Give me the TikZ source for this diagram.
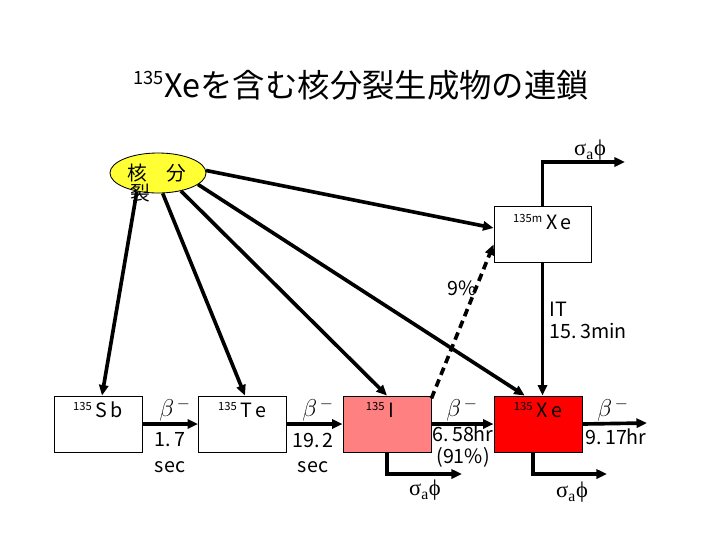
\documentclass[tikz,border=0pt]{standalone}
\usepackage{fontspec}
\setmainfont{Noto Sans CJK JP}
\newfontfamily\greekserif{Liberation Serif}
\usetikzlibrary{arrows.meta,shapes.geometric}
\definecolor{iodine}{RGB}{255,128,128}
\definecolor{xenon}{RGB}{255,0,0}
\definecolor{fisyellow}{RGB}{255,255,51}
\tikzset{
    nuclide/.style={draw=black,line width=0.6pt,minimum width=2.2cm,minimum height=1.4cm,inner sep=0pt},
    nuclname/.style={font=\fontsize{14}{14}\selectfont,inner sep=1pt},
    chain/.style={line width=2.6pt},
    info/.style={font=\fontsize{14}{14}\selectfont,inner sep=1pt},
    decay/.style={font=\fontsize{18}{18}\selectfont,inner sep=1pt},
    absorb/.style={font=\fontsize{16}{16}\selectfont\greekserif,inner sep=1pt}
}
\newcommand{\iso}[1]{\textsuperscript{\fontsize{8}{8}\selectfont #1}}
\newcommand{\bminus}{$\beta^{\,-}$}
\newcommand{\sigphi}{σ\textsubscript{a}ϕ}

\begin{document}
\begin{tikzpicture}[x=0.025cm,y=-0.025cm,>={Triangle[length=7.5pt,width=6.5pt]}]
    \useasboundingbox (0,0) rectangle (720,540);
    \node[font=\fontsize{23}{23}\selectfont] (title) at (361,85) {\textsuperscript{\fontsize{13}{13}\selectfont 135}Xeを含む核分裂生成物の連鎖};
    % fission source
    \node[shape=ellipse,draw=black,line width=0.6pt,fill=fisyellow,minimum width=2.4cm,minimum height=1cm,inner sep=0pt] (fis) at (158,173) {};
    \node[nuclname] (fisa) at (157,173) {核\quad 分};
    \node[nuclname] (fisb) at (140,193) {裂};
    % nuclides
    \node[nuclide] (sb) at (98,424) {};
    \node[nuclide] (te) at (242.5,424) {};
    \node[nuclide,fill=iodine] (i) at (387,424) {};
    \node[nuclide,fill=xenon] (xe) at (538,424) {};
    \node[nuclide,minimum width=2.425cm] (xem) at (542.5,234) {};
    \node[nuclname] (sbname) at (98,410) {\iso{135}\,S\,b};
    \node[nuclname] (tename) at (242.5,410) {\iso{135}\,T\,e};
    \node[nuclname] (iname) at (380,410) {\iso{135}\,I};
    \node[nuclname] (xename) at (538,410) {\iso{135}\,X\,e};
    \node[nuclname] (xemname) at (542.5,222) {\iso{135m}\,X\,e};
    % free ends
    \coordinate (xeout) at (647,423);
    \coordinate (iabs) at (462,474);
    \coordinate (xeabs) at (607,474);
    \coordinate (xemabs) at (625,162);
    % fission yields
    \draw[chain,->] (fis.-139) -- (sb.82);
    \draw[chain,->] (fis.-77) -- (te.85);
    \draw[chain,->] (fis.-38) -- (i.north);
    \draw[chain,->] (fis.-16) -- (xe.115);
    \draw[chain,->] (fis.3) -- (xem.173);
    % decay chain
    \draw[chain,->] (sb.east) -- (te.west);
    \draw[chain,->] (te.east) -- (i.west);
    \draw[chain,->] (i.east) -- (xe.west);
    \draw[chain,->] (xe.east) -- (xeout);
    \draw[chain,->,dash pattern=on 5.5pt off 3.5pt] (i.30) -- (xem.192);
    \draw[chain,->] (xem.south) -- (xem.south |- xe.north);
    % absorption
    \draw[chain,->] (i.south) |- (iabs);
    \draw[chain,->] (xe.260) |- (xeabs);
    \draw[chain,->] (xem.north) |- (xemabs);
    % labels
    \node[decay] (b1) at (175,410) {\bminus};
    \node[info] (t1a) at (170,440) {1.\,7};
    \node[info] (t1b) at (170,467) {sec};
    \node[decay] (b2) at (318,410) {\bminus};
    \node[info] (t2a) at (313,440) {19.\,2};
    \node[info] (t2b) at (313,467) {sec};
    \node[decay] (b3) at (462,410) {\bminus};
    \node[info] (t3a) at (463,434) {6.\,58hr};
    \node[info] (t3b) at (463,457) {(91\%)};
    \node[decay] (b4) at (613,410) {\bminus};
    \node[info] (t4a) at (616,437) {9.\,17hr};
    \node[info] (br) at (462,288) {9\%};
    \node[info,anchor=west] (it) at (548,309) {IT};
    \node[info,anchor=west] (ithalf) at (548,331) {15.\,3min};
    \node[absorb] (sa1) at (425,490) {\sigphi};
    \node[absorb] (sa2) at (572,492) {\sigphi};
    \node[absorb] (sa3) at (590,150) {\sigphi};
\end{tikzpicture}
\end{document}
